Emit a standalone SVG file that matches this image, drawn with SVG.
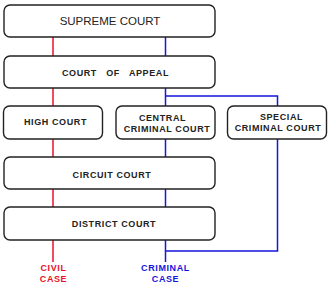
<svg xmlns="http://www.w3.org/2000/svg" width="330" height="284" viewBox="0 0 330 284">
<style>
.box{fill:#fff;stroke:#222;stroke-width:1.4}
.t{font-family:"Liberation Sans",Arial,sans-serif;font-weight:bold;font-size:9px;letter-spacing:0.6px;fill:#222;text-anchor:middle}
.big{font-weight:normal;font-size:11.5px;letter-spacing:0}
.red{stroke:#e8102a;stroke-width:1.5;fill:none}
.blue{stroke:#1515dd;stroke-width:1.5;fill:none}
.lr{fill:#e8102a}
.lb{fill:#1515dd}
</style>
<rect width="330" height="284" fill="#fff"/>
<g id="connectors">
<path class="red" d="M53 37V262"/>
<path class="blue" d="M165.5 37V262M165.5 96H277.5V251H165.5"/>
</g>
<g id="supreme"><rect class="box" x="4" y="5" width="211" height="32" rx="6"/><text class="t big" x="110" y="25">SUPREME COURT</text></g>
<g id="appeal"><rect class="box" x="4" y="56" width="211" height="32" rx="6"/><text class="t" x="115.5" y="75.5" xml:space="preserve" style="white-space:pre">COURT   OF   APPEAL</text></g>
<g id="high"><rect class="box" x="3.5" y="106" width="99" height="33" rx="6"/><text class="t" x="55.5" y="125">HIGH COURT</text></g>
<g id="central"><rect class="box" x="116" y="106" width="99" height="33" rx="6"/><text class="t" x="162.5" y="121">CENTRAL</text><text class="t" x="167" y="132">CRIMINAL COURT</text></g>
<g id="special"><rect class="box" x="227.5" y="106" width="99" height="33" rx="6"/><text class="t" x="281.5" y="119.5">SPECIAL</text><text class="t" x="278" y="130.5">CRIMINAL COURT</text></g>
<g id="circuit"><rect class="box" x="4" y="157" width="211" height="32" rx="6"/><text class="t" x="112" y="177.5">CIRCUIT COURT</text></g>
<g id="district"><rect class="box" x="4" y="207" width="211" height="33" rx="6"/><text class="t" x="114" y="226.5">DISTRICT COURT</text></g>
<g id="civil"><text class="t lr" x="53.5" y="270.5">CIVIL</text><text class="t lr" x="53.5" y="281.5">CASE</text></g>
<g id="criminal"><text class="t lb" x="165.5" y="270.5">CRIMINAL</text><text class="t lb" x="165.5" y="281.5">CASE</text></g>
</svg>
